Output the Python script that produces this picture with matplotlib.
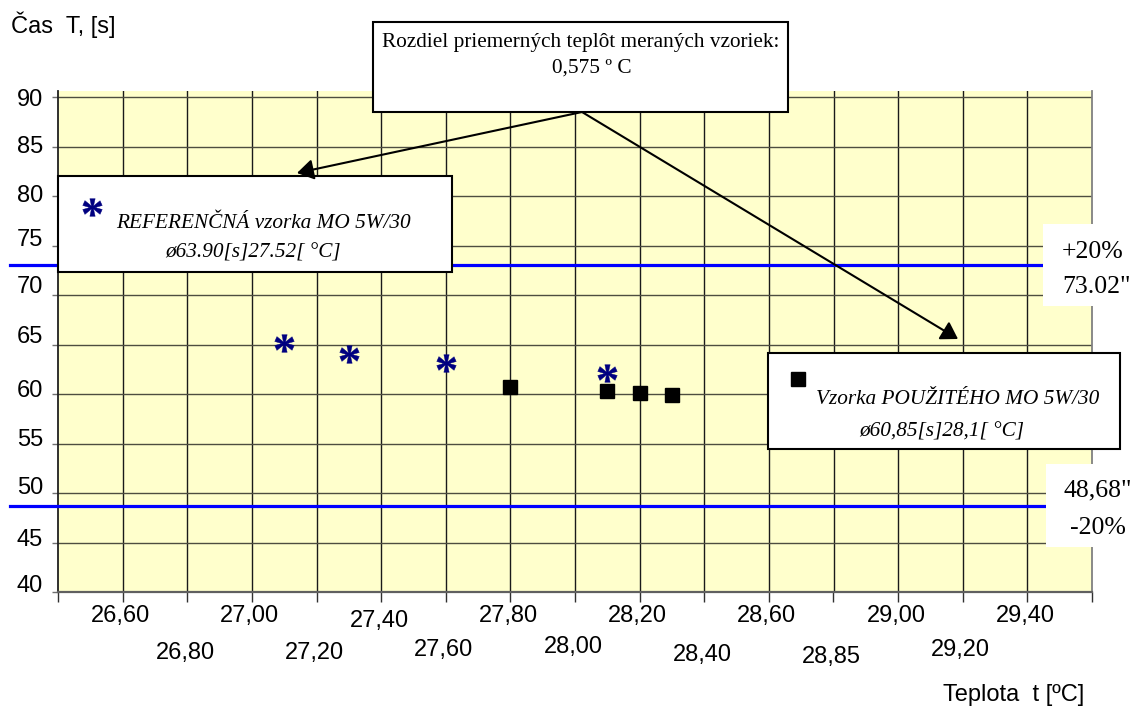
import numpy as np
import matplotlib
matplotlib.use("Agg")
import matplotlib.pyplot as plt
import matplotlib.transforms as mtransforms
from matplotlib.patches import Rectangle, FancyArrowPatch
from matplotlib.lines import Line2D
from matplotlib.markers import MarkerStyle
from matplotlib.path import Path
from matplotlib.textpath import TextPath
from matplotlib.font_manager import FontProperties

# data
ref_temp = [27.10, 27.30, 27.60, 28.10]
ref_time = [65.2, 64.1, 63.1, 62.1]
used_temp = [27.80, 28.10, 28.20, 28.30]
used_time = [60.7, 60.3, 60.1, 59.9]
upper_limit = 73.02
lower_limit = 48.68

x_tick_values = [26.6, 26.8, 27.0, 27.2, 27.4, 27.6, 27.8, 28.0,
                 28.2, 28.4, 28.6, 28.8, 29.0, 29.2, 29.4]
x_tick_labels = ["26,60", "26,80", "27,00", "27,20", "27,40", "27,60", "27,80",
                 "28,00", "28,20", "28,40", "28,60", "28,85", "29,00", "29,20",
                 "29,40"]
y_tick_values = [40, 45, 50, 55, 60, 65, 70, 75, 80, 85, 90]

# small per-label vertical jitter (px), like the original export
x_jitter = [0, 0, 0, 0, 5, -3, 0, -6, 0, 2, 0, 4, 0, -3, 0]
y_jitter = [-6, -3, -5, -4, -3, -8, -8, -6, 0, 0, 3]

W, H = 1143, 713
SANS = "Liberation Sans"
SERIF = "Liberation Serif"
NAVY = "#000080"
TICK_FS = 17


def fx(px):
    return px / W


def fy(py):
    return 1 - py / H


def px_shift(dx, dy):
    return mtransforms.ScaledTranslation(dx / 100, dy / 100, fig.dpi_scale_trans)


fig = plt.figure(figsize=(W / 100, H / 100), dpi=100)
ax = fig.add_axes([fx(58), fy(592), fx(1092) - fx(58), fy(90.7) - fy(592)])
ax.set_facecolor("#FFFFCC")
ax.set_xlim(26.4, 29.6)
ax.set_ylim(40, 90.67)

ax.set_xticks([26.4 + 0.2 * i for i in range(17)])
ax.set_yticks(y_tick_values)
ax.set_xticklabels([])
ax.set_yticklabels([])
ax.tick_params(axis="x", direction="out", length=7.5, width=1, color="#303030")
ax.tick_params(axis="y", direction="out", length=4.5, width=1, color="#707070")

for v in x_tick_values:
    ax.axvline(v, color="#1a1a1a", lw=1.0, zorder=1)
for v in y_tick_values[1:]:
    ax.axhline(v, color="#4d4d40", lw=1.0, zorder=1)

ax.spines["top"].set_visible(False)
ax.spines["left"].set_color("#202020")
ax.spines["left"].set_linewidth(1.3)
ax.spines["right"].set_color("#808080")
ax.spines["right"].set_linewidth(1.3)
ax.spines["bottom"].set_color("#606060")
ax.spines["bottom"].set_linewidth(1.6)

# +/-20 % limits, reaching out left of the axis
for lim in (upper_limit, lower_limit):
    ax.axhline(lim, xmin=-0.046, xmax=1.0, color="#0000FF", lw=2.3,
               zorder=3, clip_on=False)

# serif asterisk glyph as a marker, centred on its own bounding box
tp = TextPath((0, 0), "*", size=10, prop=FontProperties(family=SERIF, weight="bold"))
ext = tp.get_extents()
verts = tp.vertices - [(ext.x0 + ext.x1) / 2, (ext.y0 + ext.y1) / 2]
verts[tp.codes == Path.CLOSEPOLY] = 0
star_marker = MarkerStyle(Path(verts, tp.codes))

ax.plot(ref_temp, ref_time, ls="none", marker=star_marker, ms=14,
        color=NAVY, mec=NAVY, mew=0.3, zorder=4)
ax.plot(used_temp, used_time, ls="none", marker="s", ms=10.3,
        color="black", zorder=4)

# tick labels
xt = mtransforms.blended_transform_factory(ax.transData, ax.transAxes)
for i, (v, lab) in enumerate(zip(x_tick_values, x_tick_labels)):
    dy = (24 if i % 2 == 0 else 61) + x_jitter[i]
    ax.text(v, 0, lab, transform=xt + px_shift(-2, -dy), ha="center",
            va="center", fontsize=TICK_FS, family=SANS)
yt = mtransforms.blended_transform_factory(ax.transAxes, ax.transData)
for i, v in enumerate(y_tick_values):
    ax.text(0, v, str(v), transform=yt + px_shift(-15, -y_jitter[i]),
            ha="right", va="center", fontsize=TICK_FS, family=SANS)

fig.text(fx(11), fy(25), "Čas  T, [s]", ha="left", va="center",
         fontsize=TICK_FS, family=SANS)
fig.text(fx(943), fy(695), "Teplota  t [ºC]", ha="left", va="center",
         fontsize=TICK_FS, family=SANS)


def box(x0, y0, x1, y1, edge="black", lw=1.5):
    r = Rectangle((fx(x0), fy(y1)), fx(x1) - fx(x0), fy(y0) - fy(y1),
                  transform=fig.transFigure, facecolor="white",
                  edgecolor=edge, lw=lw, zorder=5)
    fig.add_artist(r)


# +/-20 % labels on the right
box(1043, 224, 1143, 306, edge="none", lw=0)
box(1046, 464, 1143, 547, edge="none", lw=0)
fig.text(fx(1093), fy(252), "+20%", ha="center", va="center",
         fontsize=18.5, family=SERIF, zorder=6)
fig.text(fx(1097), fy(287), '73.02"', ha="center", va="center",
         fontsize=18.5, family=SERIF, zorder=6)
fig.text(fx(1098), fy(490), '48,68"', ha="center", va="center",
         fontsize=18.5, family=SERIF, zorder=6)
fig.text(fx(1098), fy(528), "-20%", ha="center", va="center",
         fontsize=18.5, family=SERIF, zorder=6)

# difference callout
box(373, 22, 788, 112)
fig.text(fx(581), fy(43), "Rozdiel priemerných teplôt meraných vzoriek:",
         ha="center", va="center", fontsize=15.3, family=SERIF, zorder=6)
fig.text(fx(592), fy(68), "0,575 º C", ha="center", va="center",
         fontsize=15.3, family=SERIF, zorder=6)

# reference sample box
box(58, 176, 452, 272)
fig.add_artist(Line2D([fx(92)], [fy(207)], transform=fig.transFigure,
                      ls="none", marker=star_marker, ms=14, color=NAVY,
                      mec=NAVY, mew=0.3, zorder=6))
fig.text(fx(263), fy(224), "REFERENČNÁ vzorka MO 5W/30", ha="center",
         va="center", fontsize=15.3, family=SERIF, style="italic", zorder=6)
fig.text(fx(253), fy(253), "ø63.90[s]27.52[ °C]", ha="center",
         va="center", fontsize=15.3, family=SERIF, style="italic", zorder=6)

# used oil box
box(768, 353, 1120, 449)
fig.add_artist(Line2D([fx(798)], [fy(379)], transform=fig.transFigure,
                      ls="none", marker="s", ms=10.3, color="black", zorder=6))
fig.text(fx(958), fy(400), "Vzorka POUŽITÉHO MO 5W/30", ha="center",
         va="center", fontsize=15.3, family=SERIF, style="italic", zorder=6)
fig.text(fx(942), fy(432), "ø60,85[s]28,1[ °C]", ha="center",
         va="center", fontsize=15.3, family=SERIF, style="italic", zorder=6)

# arrows from the callout
for tip in [(297, 173), (958, 339)]:
    arr = FancyArrowPatch((fx(582), fy(112)), (fx(tip[0]), fy(tip[1])),
                          transform=fig.transFigure,
                          arrowstyle="-|>,head_length=0.4,head_width=0.25",
                          mutation_scale=25, lw=1.5, color="black",
                          shrinkA=0, shrinkB=0, zorder=7)
    fig.add_artist(arr)

fig.savefig("out.png", dpi=100)
